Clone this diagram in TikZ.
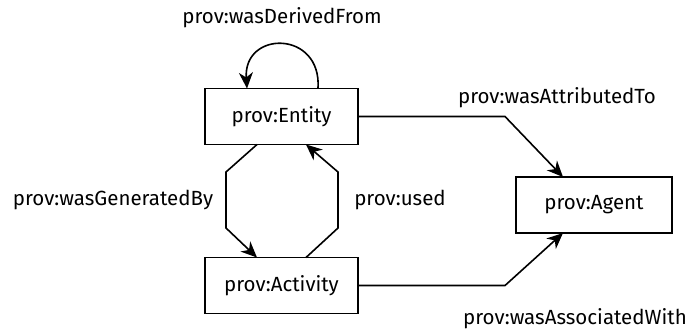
\documentclass[tikz,border=0pt]{standalone}
\usepackage{fontspec}
\setmainfont{Fira Sans}
\usetikzlibrary{arrows.meta}
\begin{document}
\begin{tikzpicture}[x=1pt,y=-1pt,
  cls/.style={draw,line width=1.6pt,minimum width=153pt,minimum height=56pt,inner sep=0pt,font=\fontsize{20.5}{24}\selectfont},
  rel/.style={line width=1.6pt,-{Stealth[length=16pt,width=14pt,inset=5pt]}},
  lbl/.style={font=\fontsize{20.5}{24}\selectfont,inner sep=0pt}]
\useasboundingbox (0,0) rectangle (690,329);
\node[cls] (entity) at (281.5,116.5) {prov:Entity};
\node[cls] (activity) at (281.5,285.5) {prov:Activity};
\node[cls,minimum width=156pt] (agent) at (594,205) {prov:Agent};

% self-loop on the entity
\coordinate (d1) at (318,88.5);
\coordinate (d2) at (247,88.5);
\draw[rel] (d1) .. controls (322,30) and (243,30) .. (d2);
\node[lbl] at (282,18) {prov:wasDerivedFrom};

% entity -> activity, left side of the octagon
\coordinate (g0) at (257,144.5);
\coordinate (g1) at (226,172);
\coordinate (g2) at (226,228);
\coordinate (g3) at (257,257.5);
\draw[rel] (g0) -- (g1) -- (g2) -- (g3);
\node[lbl] at (113,200) {prov:wasGeneratedBy};

% activity -> entity, right side of the octagon
\coordinate (u0) at (306,257.5);
\coordinate (u1) at (338,228);
\coordinate (u2) at (338,172);
\coordinate (u3) at (306,144.5);
\draw[rel] (u0) -- (u1) -- (u2) -- (u3);
\node[lbl] at (400,200) {prov:used};

\coordinate (a1) at (505,116.5);
\coordinate (a2) at (563,177);
\draw[rel] (entity.east) -- (a1) -- (a2);
\node[lbl] at (557,98) {prov:wasAttributedTo};

\coordinate (w1) at (505,285.5);
\coordinate (w2) at (563,233);
\draw[rel] (activity.east) -- (w1) -- (w2);
\node[lbl] at (575,319) {prov:wasAssociatedWith};
\end{tikzpicture}
\end{document}
